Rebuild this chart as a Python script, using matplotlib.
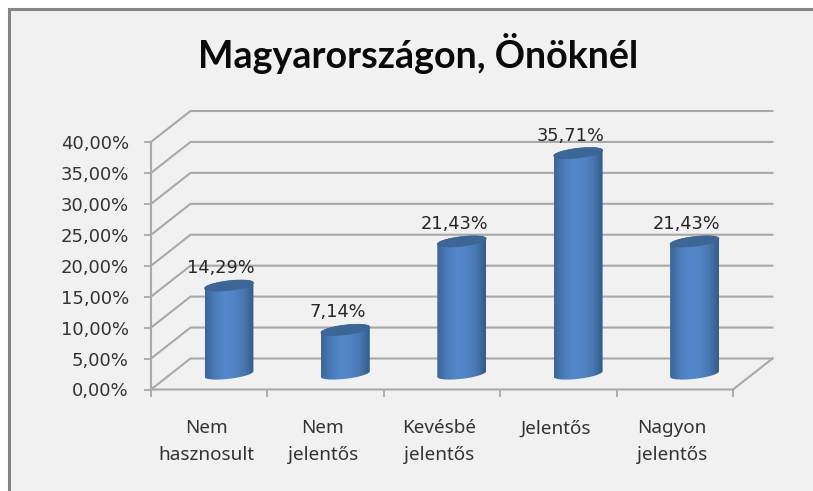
import matplotlib
matplotlib.use("Agg")
import matplotlib.pyplot as plt
from matplotlib.path import Path
from matplotlib.patches import PathPatch, Rectangle
import numpy as np

title = "Magyarországon, Önöknél"
categories = ["Nem\nhasznosult", "Nem\njelentős", "Kevésbé\njelentős", "Jelentős", "Nagyon\njelentős"]
values = [14.29, 7.14, 21.43, 35.71, 21.43]
value_labels = ["14,29%", "7,14%", "21,43%", "35,71%", "21,43%"]
y_ticks = [0, 5, 10, 15, 20, 25, 30, 35, 40]
y_labels = ["0,00%", "5,00%", "10,00%", "15,00%", "20,00%", "25,00%", "30,00%", "35,00%", "40,00%"]

W, H = 813, 491
fig = plt.figure(figsize=(W / 100, H / 100), dpi=100, facecolor="white")

# chart frame
fig.patches.append(Rectangle((9 / W, -0.02), 1.02, 1.02 - 9 / H + 0.0, transform=fig.transFigure,
                             facecolor="#f1f1f1", edgecolor="#858585", linewidth=2.2, zorder=-5))

# front plane of the 3d box
left, right, bottom, top = 151, 733, 389.5, 142
ax = fig.add_axes([left / W, 1 - bottom / H, (right - left) / W, (bottom - top) / H])
ax.patch.set_alpha(0)
ax.set_xlim(0, 5)
ax.set_ylim(0, 40)
for s in ax.spines.values():
    s.set_visible(False)

grid = "#a8a8a8"
depth_x = 39.5 / ((right - left) / 5)     # in category units
depth_y = 31 / ((bottom - top) / 40)      # in percent

# walls
for t in y_ticks:
    ax.plot([0, depth_x, 5 + depth_x], [t, t + depth_y, t + depth_y], color=grid, lw=1.5, clip_on=False, zorder=1)
ax.plot([0, 0], [0, 40], color=grid, lw=1.5, zorder=2, clip_on=False)
ax.plot([0, 5, 5 + depth_x], [0, 0, depth_y], color=grid, lw=1.5, clip_on=False, zorder=2)

# ticks
ax.set_xticks(np.arange(6))
ax.set_xticklabels([])
ax.set_yticks(y_ticks)
ax.set_yticklabels(y_labels, fontsize=13, color="#333333", family="DejaVu Sans")
ax.tick_params(axis="x", length=5, width=1.3, color=grid, pad=0)
ax.tick_params(axis="y", length=5, width=1.3, color=grid, pad=11)

# category labels
for i, c in enumerate(categories):
    ax.annotate(c, (i + 0.475, 0), xytext=(0, -21.5), textcoords="offset points",
                ha="center", va="top", fontsize=13.6, color="#333333", linespacing=1.6,
                family="Noto Sans", annotation_clip=False)

# cylinders
half_w = 0.21
ell_h = 0.78
tilt = 0.45
cmap = matplotlib.colors.LinearSegmentedColormap.from_list(
    "cyl", ["#3a6699", "#4a7cb8", "#5488cb", "#5185c6", "#4877b0", "#345b8a"])
grad = np.linspace(0, 1, 128).reshape(1, -1)

for i, v in enumerate(values):
    cx = i + 0.5 + depth_x / 2
    y0 = depth_y / 2
    y1 = v + depth_y / 2
    t = np.linspace(0, 2 * np.pi, 80)
    ex = half_w * np.cos(t)
    ey = ell_h * np.sin(t) + tilt * np.cos(t)
    # body outline: top edge arc, lower half of bottom ellipse
    t_low = np.linspace(np.pi, 2 * np.pi, 40)
    t_up = np.linspace(0, np.pi, 40)
    bx = cx + half_w * np.cos(t_low)
    by = y0 + ell_h * np.sin(t_low) + tilt * np.cos(t_low)
    tx = cx + half_w * np.cos(t_up)
    ty = y1 + ell_h * np.sin(t_up) + tilt * np.cos(t_up)
    body = np.column_stack([np.r_[bx, tx], np.r_[by, ty]])
    im = ax.imshow(grad, cmap=cmap, extent=[cx - half_w, cx + half_w, y0 - 3, y1 + 3],
                   aspect="auto", zorder=3, interpolation="bilinear")
    im.set_clip_box(fig.bbox)
    im.set_clip_path(Path(body), transform=ax.transData)
    ax.add_patch(PathPatch(Path(np.column_stack([cx + ex, y1 + ey])), facecolor="#3d6696",
                           edgecolor="#3a6494", lw=0.5, zorder=4, clip_on=False))
    ax.annotate(value_labels[i], (cx, y1), xytext=(-5.5, 6), textcoords="offset points",
                ha="center", va="bottom", fontsize=12.8, color="#262626",
                family="DejaVu Sans", annotation_clip=False, zorder=5)

ax.set_xlim(0, 5)
ax.set_ylim(0, 40)

fig.text(418 / W, 1 - 54 / H, title, ha="center", va="center", fontsize=27.1,
         fontweight="bold", family="Lato", color="#0a0a0a")

fig.savefig("out.png", dpi=100, facecolor=fig.get_facecolor())
